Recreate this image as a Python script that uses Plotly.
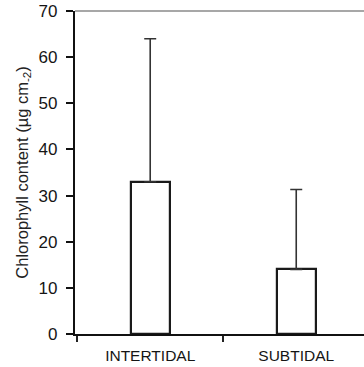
import plotly.graph_objects as go

categories = ["INTERTIDAL", "SUBTIDAL"]
means = [33.0, 14.0]
err_plus = [31.0, 17.3]
y_ticks = [0, 10, 20, 30, 40, 50, 60, 70]

FONT = "Liberation Sans, Arial, sans-serif"

fig = go.Figure()
fig.add_trace(go.Bar(
    x=categories, y=means,
    width=0.265,
    marker=dict(color="white", line=dict(color="#1a1a1a", width=2.2)),
    error_y=dict(type="data", symmetric=False, array=err_plus,
                 arrayminus=[0, 0], color="#333333", thickness=1.6, width=6),
))

fig.update_layout(
    width=364, height=367,
    margin=dict(l=75, r=0, t=11, b=33),
    paper_bgcolor="white", plot_bgcolor="white",
    showlegend=False,
    font=dict(family=FONT, color="#151515"),
    bargap=0,
)
fig.update_xaxes(
    type="category", range=[-0.515, 1.464], automargin=False,
    tickson="boundaries", ticks="outside", ticklen=6, tickwidth=1.5, tickcolor="#222",
    showline=True, linecolor="#111", linewidth=2,
    showgrid=False, zeroline=False,
    tickfont=dict(size=15.5, family=FONT, color="#151515"),
    ticklabelstandoff=6,
)
fig.update_yaxes(
    range=[0, 70], tickvals=y_ticks, automargin=False,
    ticks="outside", ticklen=7, tickwidth=2, tickcolor="#111",
    showline=True, linecolor="#111", linewidth=2.2,
    showgrid=False, zeroline=False,
    tickfont=dict(size=17, family=FONT, color="#151515"),
    ticklabelstandoff=5,
    title=dict(text="Chlorophyll content (µg cm<sub>-2</sub>)",
               font=dict(size=16.5, family=FONT, color="#222"), standoff=6),
)
fig.add_shape(type="line", xref="paper", yref="paper", x0=0, x1=1, y0=1, y1=1,
              line=dict(color="#8a8a8a", width=1.5))

fig.write_html("out.html",
               config={"displayModeBar": False},
               post_script="document.body.style.margin='0';document.body.style.overflow='hidden';")
